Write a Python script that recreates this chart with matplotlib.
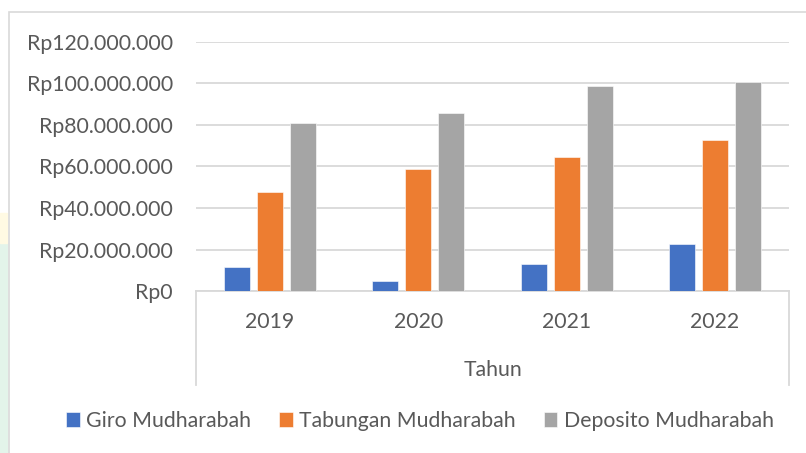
import matplotlib
matplotlib.use("Agg")
import matplotlib.pyplot as plt
import matplotlib.patches as mpatches
import numpy as np
from matplotlib.ticker import FuncFormatter

# data
years = ["2019", "2020", "2021", "2022"]
giro = [11.5e6, 5.1e6, 13.0e6, 22.6e6]
tabungan = [47.7e6, 58.7e6, 64.8e6, 72.6e6]
deposito = [80.8e6, 85.9e6, 98.6e6, 100.5e6]
series_names = ["Giro Mudharabah", "Tabungan Mudharabah", "Deposito Mudharabah"]
colors = ["#4472C4", "#ED7D31", "#A5A5A5"]

plt.rcParams['font.family'] = ['Lato', 'DejaVu Sans']
txt = "#595959"
grid = "#D9D9D9"
fs = 15.3

W, H = 806, 453
fig = plt.figure(figsize=(W / 100, H / 100), dpi=100)

# faint watermark bits on the left edge
fig.patches.append(mpatches.Rectangle((0, 0), 7 / W, 210 / H, transform=fig.transFigure,
                                      color="#E3F4EA", zorder=0))
fig.patches.append(mpatches.Rectangle((0, 210 / H), 7 / W, 30 / H, transform=fig.transFigure,
                                      color="#FFFAE3", zorder=0))
# chart border
fig.patches.append(mpatches.Rectangle((9 / W, -0.1), 1.2, 1.1 - 12 / H, transform=fig.transFigure,
                                      fill=False, edgecolor=grid, lw=1.2, zorder=1))

left, right = 196 / W, 789 / W
bottom, top = 1 - 291.3 / H, 1 - 41.7 / H
ax = fig.add_axes([left, bottom, right - left, top - bottom])

x = np.arange(len(years))
w = 0.175
step = 0.222
for i, (vals, name, c) in enumerate(zip([giro, tabungan, deposito], series_names, colors)):
    ax.bar(x + (i - 1) * step, vals, width=w, color=c, label=name, zorder=3,
           edgecolor="white", linewidth=0.4)

ax.set_xlim(-0.5, len(years) - 0.5)
ax.set_ylim(0, 120e6)
ax.set_yticks(np.arange(0, 120e6 + 1, 20e6))
ax.yaxis.set_major_formatter(FuncFormatter(lambda v, p: "Rp" + f"{int(v):,}".replace(",", ".")))
ax.yaxis.grid(True, color=grid, lw=1.3, zorder=0)
ax.set_axisbelow(True)
ax.tick_params(axis="y", length=0, pad=16.5, labelsize=fs, labelcolor=txt)
ax.set_xticks(x)
ax.set_xticklabels(years)
ax.tick_params(axis="x", length=0, pad=15, labelsize=fs, labelcolor=txt)

for s in ["top", "right", "left"]:
    ax.spines[s].set_visible(False)
ax.spines["bottom"].set_color(grid)
ax.spines["bottom"].set_linewidth(1.3)

# category axis box edges going down under the labels
depth = (385 - 291.3) / (291.3 - 41.7)
for xe in [0, 1]:
    ax.plot([xe, xe], [0, -depth], transform=ax.transAxes, color=grid, lw=1.3, clip_on=False)

ax.text(0.5, -(370 - 291.3) / (291.3 - 41.7), "Tahun", transform=ax.transAxes,
        ha="center", va="center", fontsize=fs, color=txt)

leg = fig.legend(loc="center", bbox_to_anchor=(420 / W, 1 - 421 / H), ncol=3, frameon=False,
                 fontsize=fs, handlelength=0.65, handleheight=0.65, handletextpad=0.3,
                 columnspacing=1.3)
for t in leg.get_texts():
    t.set_color(txt)

fig.savefig("out.png", dpi=100)
